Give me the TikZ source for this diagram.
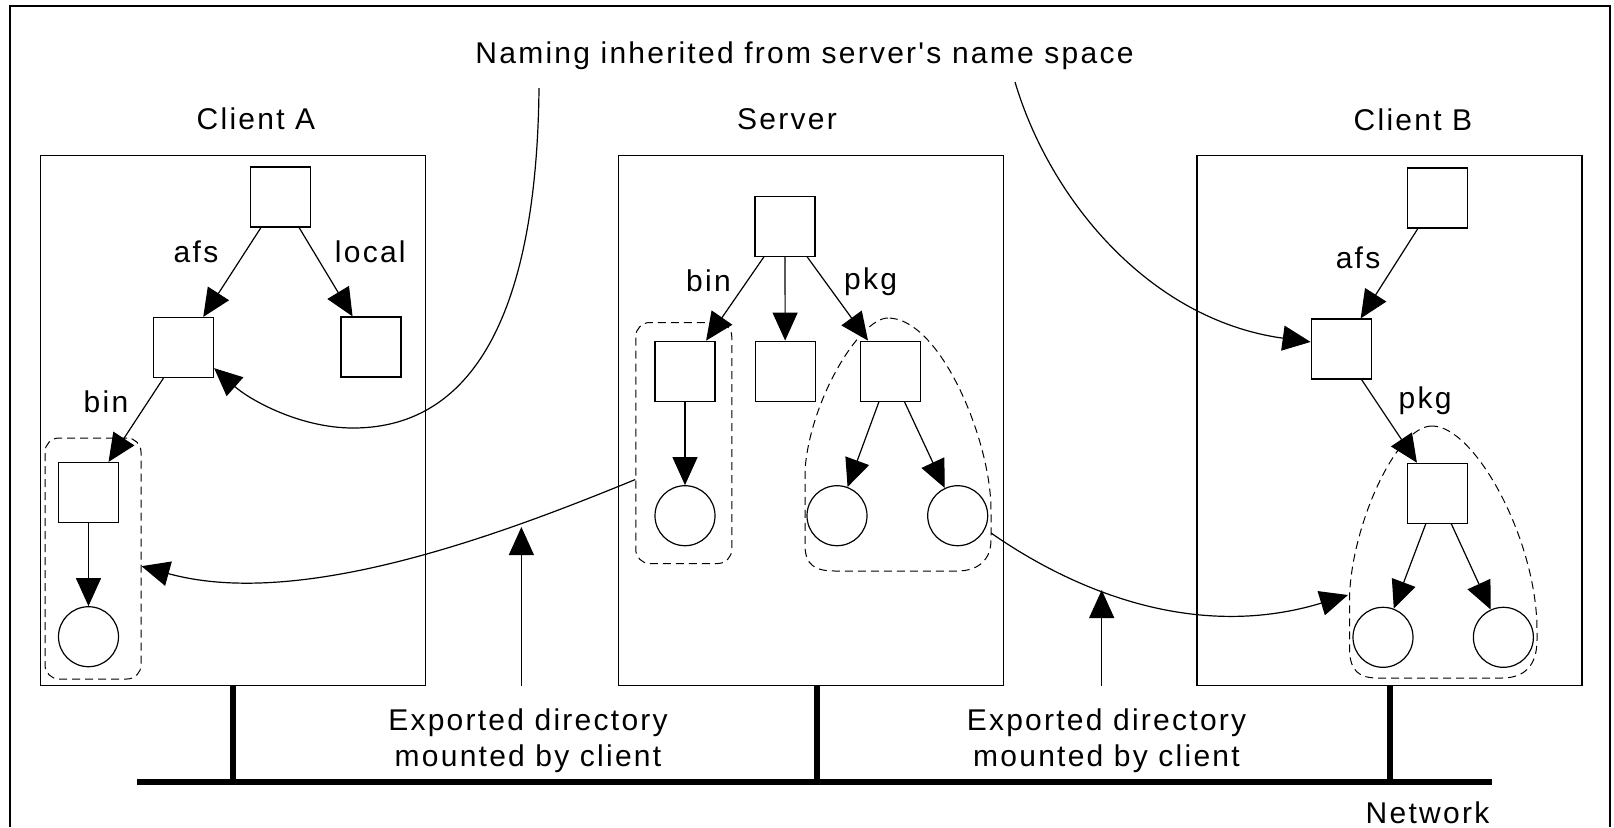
\documentclass[tikz,border=0pt]{standalone}
\usepackage{fontspec}
\setmainfont{Liberation Sans}[LetterSpace=7.5,Ligatures=TeXOff]
\usetikzlibrary{arrows.meta,calc}
\begin{document}
\begin{tikzpicture}[x=0.5pt,y=-0.5pt,
  every node/.style={font=\fontsize{15pt}{18pt}\selectfont},
  sq/.style={draw,line width=0.6pt,minimum width=30pt,minimum height=30pt,inner sep=0pt},
  circ/.style={draw,circle,line width=0.6pt,minimum size=30pt,inner sep=0pt},
  host/.style={draw,line width=0.6pt,minimum width=192.5pt,minimum height=265pt,inner sep=0pt},
  dsh/.style={line width=0.5pt,dash pattern=on 4pt off 2.5pt},
  grp/.style={dsh,draw,rounded corners=7pt,minimum width=48pt,minimum height=120.5pt,inner sep=0pt},
  lbl/.style={anchor=base,inner sep=0pt},
  arr/.style={line width=0.6pt,-{Triangle[length=14pt,width=12.5pt]}},
  net/.style={line width=3pt},
]
\useasboundingbox (0,0) rectangle (1614,827);
% outer frame
\draw[line width=1.25pt] (10,827) -- (10,6) -- (1610,6) -- (1610,827);

% hosts
\node[host] (abox) at (232.85,420.75) {};
\node[host] (sbox) at (811,420.75) {};
\node[host] (bbox) at (1389.5,420.75) {};

% titles
\node[lbl] (tnaming) at (804.5,63) {Naming inherited from server's name space};
\node[lbl] (ta) at (256,129.5) {Client A};
\node[lbl] (ts) at (787,129.5) {Server};
\node[lbl] (tb) at (1413,130) {Client B};

% Client A tree
\node[sq] (ca0) at (280.7,197) {};
\node[sq] (ca1) at (183.5,347.5) {};
\node[sq] (ca2) at (371,347) {};
\node[grp] (ag) at (93,558.5) {};
\node[sq] (ca3) at (88.5,492.5) {};
\node[circ] (cac) at (88.5,636.7) {};
\node[lbl] (lafsa) at (196,262) {afs};
\node[lbl] (lloc) at (370.3,262) {local};
\node[lbl] (lbina) at (106,412) {bin};
\draw[arr] (ca0) -- (ca1);
\draw[arr] (ca0) -- (ca2);
\draw[arr] (ca1) -- (ca3);
\draw[arr] (ca3) -- (cac);

% Server tree
\node[sq] (s0) at (785,226.3) {};
\node[grp] (sg) at (683.75,443) {};
\node[sq] (s1) at (685,371.2) {};
\node[sq] (s2) at (785.2,371.2) {};
\node[sq] (s3) at (890.2,371.2) {};
\node[circ] (sc1) at (685,515.7) {};
\node[circ] (sc2) at (837,515.7) {};
\node[circ] (sc3) at (957.7,515.7) {};
\node[lbl] (lbins) at (708.5,291) {bin};
\node[lbl] (lpkgs) at (870.5,289) {pkg};
\draw[arr] (s0) -- (s1);
\draw[arr] (s0) -- (s2);
\draw[arr] (s0) -- (s3);
\draw[arr] (s1) -- (sc1);
\draw[arr] (s3) -- (sc2);
\draw[arr] (s3) -- (sc3);
\draw[dsh] (888,318) .. controls (860,318) and (810,400) .. (805,470)
  -- (805,545) .. controls (805,565) and (815,571) .. (835,571)
  -- (957,571) .. controls (978,571) and (991,560) .. (991,540)
  -- (991,510) .. controls (991,440) and (940,318) .. cycle;

% Client B tree
\node[sq] (b0) at (1437.3,198) {};
\node[sq] (b1) at (1341.2,349) {};
\node[sq] (b2) at (1437.3,493.3) {};
\node[circ] (bc1) at (1383,637.3) {};
\node[circ] (bc2) at (1503.4,637.3) {};
\node[lbl] (lafsb) at (1358,268) {afs};
\node[lbl] (lpkgb) at (1425,408) {pkg};
\draw[arr] (b0) -- (b1);
\draw[arr] (b1) -- (b2);
\draw[arr] (b2) -- (bc1);
\draw[arr] (b2) -- (bc2);
\draw[dsh] (1432,426) .. controls (1395,426) and (1350,530) .. (1349.5,600)
  -- (1349.5,648) .. controls (1349.5,672) and (1360,678) .. (1378,678)
  -- (1502,678) .. controls (1525,678) and (1537,665) .. (1537,640)
  -- (1537,630) .. controls (1537,540) and (1475,426) .. cycle;

% naming curves
\coordinate (nl) at (539,88);
\coordinate (nr) at (1015,82);
\draw[arr] (nl) .. controls (537,300) and (480,428) .. (353,428)
  .. controls (300,428) and (250,400) .. (ca1.-34);
\draw[arr] (nr) .. controls (1050,200) and (1150,320) .. (b1.167);

% mount curves
\draw[arr] (sg.217) .. controls (500,535) and (300,610) .. (ag.-9);
\coordinate (spk) at (991,533);
\coordinate (bpk) at (1348,595);
\draw[arr] (spk) .. controls (1080,595) and (1200,640) .. (bpk);

% mount labels and arrows
\node[lbl,align=center] (lexp1) at (528,766) {Exported directory\\mounted by client};
\node[lbl,align=center] (lexp2) at (1106.5,766) {Exported directory\\mounted by client};
\coordinate (u1a) at (521.4,686);
\coordinate (u1b) at (521.4,527);
\coordinate (u2a) at (1101.7,686);
\coordinate (u2b) at (1101.7,590);
\draw[arr] (u1a) -- (u1b);
\draw[arr] (u2a) -- (u2b);

% network
\coordinate (n0) at (137,782);
\coordinate (n1) at (1492,782);
\draw[net] (n0) -- (n1);
\draw[net] (abox.south) -- (abox.south |- n0);
\coordinate (ss) at ($(sbox.south)+(5.5,0)$);
\draw[net] (ss) -- (ss |- n0);
\draw[net] (bbox.south) -- (bbox.south |- n0);
\node[lbl] (lnet) at (1427.5,823) {Network};
\end{tikzpicture}
\end{document}
